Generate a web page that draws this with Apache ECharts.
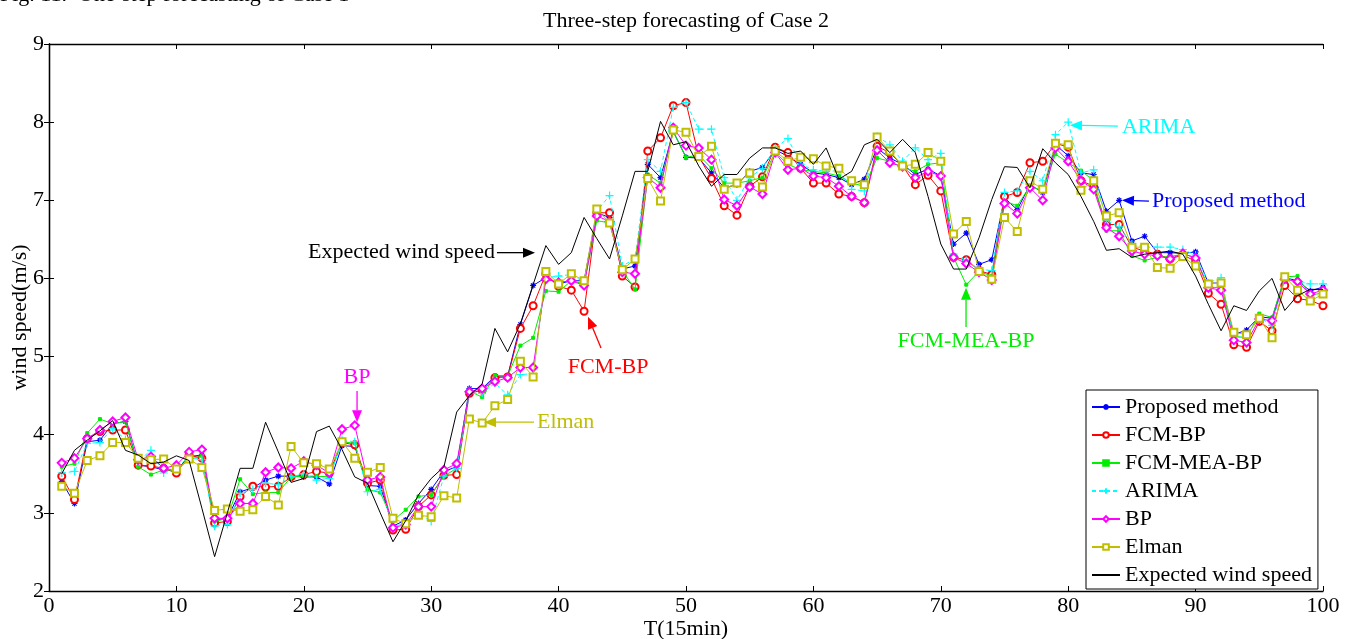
<!DOCTYPE html>
<html><head><meta charset="utf-8">
<script src="https://cdn.jsdelivr.net/npm/echarts@6/dist/echarts.min.js"></script>
<style>html,body{margin:0;padding:0;background:#fff;} #c{width:1351px;height:639px;}</style>
</head><body><div id="c"></div>
<script>
// time steps 1..100 (15-min intervals)
const T = Array.from({length: 100}, (_, i) => i + 1);

const proposed = [3.40,3.12,3.91,3.93,4.14,4.17,3.61,3.59,3.55,3.55,3.72,3.74,2.91,2.93,3.27,3.32,3.42,3.47,3.47,3.46,
3.46,3.37,3.86,3.85,3.35,3.34,2.83,2.91,3.12,3.30,3.53,3.59,4.59,4.59,4.75,4.75,5.41,5.91,6.01,5.93,
5.97,5.97,6.84,6.78,6.12,6.16,7.46,7.29,7.88,7.55,7.54,7.35,7.16,7.20,7.37,7.42,7.65,7.56,7.46,7.35,
7.33,7.29,7.20,7.27,7.67,7.54,7.46,7.33,7.40,7.31,6.44,6.58,6.18,6.24,7.03,6.88,7.20,7.10,7.71,7.57,
7.35,7.33,6.86,7.00,6.48,6.54,6.33,6.33,6.32,6.34,5.94,5.94,5.28,5.34,5.51,5.49,6.01,5.97,5.84,5.89];

const fcmBP = [3.47,3.17,3.95,4.04,4.06,4.06,3.61,3.60,3.57,3.51,3.74,3.70,2.87,2.89,3.21,3.34,3.33,3.34,3.46,3.49,
3.53,3.51,3.90,3.87,3.38,3.42,2.78,2.79,3.08,3.23,3.48,3.49,4.53,4.57,4.73,4.74,5.36,5.65,6.06,5.90,
5.85,5.58,6.84,6.84,6.03,5.89,7.63,7.80,8.21,8.25,7.56,7.28,6.93,6.81,7.18,7.30,7.68,7.61,7.41,7.22,
7.22,7.08,7.05,6.97,7.69,7.61,7.44,7.20,7.32,7.12,6.27,6.24,6.10,6.05,7.05,7.10,7.48,7.50,7.73,7.68,
7.25,7.18,6.69,6.69,6.40,6.35,6.31,6.25,6.30,6.22,5.81,5.67,5.15,5.12,5.45,5.33,5.91,5.74,5.72,5.65];

const fcmMeaBP = [3.59,3.63,4.02,4.20,4.14,4.17,3.59,3.49,3.55,3.55,3.68,3.73,2.89,2.93,3.43,3.24,3.26,3.26,3.46,3.47,
3.47,3.46,3.91,3.89,3.30,3.26,2.90,3.04,3.21,3.23,3.47,3.57,4.56,4.48,4.76,4.75,5.14,5.24,5.84,5.83,
5.97,5.93,6.74,6.71,6.10,5.86,7.33,7.22,7.88,7.55,7.58,7.41,7.22,7.22,7.25,7.29,7.61,7.46,7.39,7.37,
7.35,7.31,7.22,7.18,7.54,7.50,7.42,7.37,7.46,7.48,6.27,5.92,6.09,6.03,6.99,6.93,7.18,7.12,7.59,7.48,
7.38,7.25,6.61,6.61,6.29,6.23,6.27,6.28,6.31,6.27,5.89,5.88,5.26,5.24,5.55,5.50,6.02,6.03,5.78,5.82];

const arima = [3.51,3.53,3.89,3.90,4.08,3.94,3.66,3.80,3.51,3.58,3.72,3.68,2.83,2.85,3.25,3.30,3.38,3.36,3.46,3.50,
3.42,3.44,3.93,3.91,3.27,3.30,2.83,2.86,2.99,2.89,3.47,3.57,4.53,4.53,4.66,4.51,4.77,4.78,6.01,6.03,
6.05,5.95,6.86,7.06,6.16,6.25,7.52,7.37,8.19,8.25,7.91,7.91,7.29,7.00,7.29,7.41,7.67,7.79,7.46,7.39,
7.37,7.38,7.14,7.12,7.82,7.71,7.50,7.67,7.52,7.60,6.31,6.23,6.12,6.10,7.10,7.12,7.37,7.25,7.84,8.00,
7.35,7.39,6.74,6.66,6.44,6.40,6.40,6.40,6.37,6.30,5.94,6.01,5.24,5.26,5.50,5.40,6.01,5.97,5.93,5.93];

const bp = [3.64,3.70,3.95,4.06,4.17,4.22,3.68,3.72,3.57,3.61,3.78,3.81,2.93,2.93,3.12,3.12,3.52,3.58,3.57,3.66,
3.61,3.51,4.07,4.12,3.42,3.46,2.81,2.85,3.08,3.08,3.55,3.63,4.55,4.59,4.68,4.73,4.86,4.86,5.99,5.95,
5.97,5.91,6.80,6.73,6.08,6.06,7.29,7.16,7.93,7.70,7.67,7.52,7.01,6.93,7.17,7.08,7.61,7.39,7.41,7.31,
7.29,7.18,7.05,6.97,7.64,7.48,7.43,7.29,7.37,7.31,6.27,6.19,6.08,5.98,6.96,6.83,7.16,7.00,7.67,7.50,
7.25,7.14,6.65,6.54,6.35,6.31,6.29,6.25,6.32,6.26,5.88,5.85,5.21,5.18,5.48,5.46,5.99,5.96,5.80,5.85];

const elman = [3.34,3.25,3.67,3.73,3.90,3.90,3.70,3.68,3.69,3.56,3.69,3.58,3.03,3.05,3.02,3.04,3.21,3.10,3.85,3.64,
3.63,3.56,3.91,3.70,3.52,3.58,2.93,2.86,2.97,2.95,3.22,3.19,4.20,4.15,4.37,4.45,4.94,4.74,6.09,5.93,
6.06,5.97,6.89,6.71,6.11,6.25,7.28,6.99,7.90,7.87,7.56,7.69,7.14,7.22,7.35,7.17,7.63,7.50,7.55,7.53,
7.44,7.41,7.25,7.20,7.81,7.63,7.44,7.46,7.61,7.50,6.57,6.73,6.09,5.99,6.78,6.60,7.25,7.14,7.73,7.71,
7.13,7.25,6.80,6.84,6.40,6.40,6.14,6.13,6.28,6.16,5.93,5.94,5.31,5.28,5.49,5.24,6.02,5.85,5.71,5.80];

const expected = [3.50,3.80,3.93,4.05,4.18,3.80,3.74,3.63,3.65,3.73,3.67,3.06,2.44,3.00,3.57,3.57,4.16,3.78,3.39,3.44,
4.04,4.11,3.81,3.46,3.38,3.00,2.63,2.90,3.23,3.44,3.59,4.29,4.50,4.65,5.36,5.06,5.42,5.92,6.42,6.18,
6.33,6.78,6.51,6.25,6.80,7.37,7.37,8.01,7.71,7.75,7.44,7.18,7.33,7.33,7.54,7.67,7.67,7.60,7.63,7.46,
7.67,7.27,7.37,7.71,7.78,7.61,7.78,7.61,7.05,6.44,6.12,6.12,6.52,7.01,7.43,7.42,7.16,7.66,7.48,7.33,
7.05,6.73,6.36,6.38,6.27,6.31,6.33,6.35,6.31,6.03,5.67,5.33,5.65,5.59,5.84,6.00,5.59,5.78,5.86,5.86];

const seriesNames = ['Proposed method','FCM-BP','FCM-MEA-BP','ARIMA','BP','Elman','Expected wind speed'];
const seriesValues = [proposed, fcmBP, fcmMeaBP, arima, bp, elman, expected];
const colors = ['#0000ff','#ff0000','#00ee00','#00ffff','#ff00ff','#bfbf00','#000000'];

const FONT = 'Liberation Serif';
const FS = 22;
const asterisk = 'path://M5,0L5,10M0,5L10,5M1.5,1.5L8.5,8.5M8.5,1.5L1.5,8.5';
const plus = 'path://M5,0L5,10M0,5L10,5';
const symbolCfg = [
  {symbol: asterisk, size: 6, stroke: true},
  {symbol: 'emptyCircle', size: 7},
  {symbol: 'rect', size: 3},
  {symbol: plus, size: 8, stroke: true},
  {symbol: 'emptyDiamond', size: 8},
  {symbol: 'emptyRect', size: 7},
  {symbol: 'circle', size: 4, hidden: true}
];

const series = seriesNames.map((name, k) => {
  const c = colors[k], s = symbolCfg[k];
  let itemStyle;
  if (s.hidden) itemStyle = {color: 'rgba(0,0,0,0)', borderWidth: 0};
  else if (s.stroke) itemStyle = {color: c, borderColor: c, borderWidth: 1.2};
  else itemStyle = {color: c, borderColor: c, borderWidth: 1};
  return {
    name, type: 'line', data: T.map((t, i) => [t, seriesValues[k][i]]),
    symbol: s.symbol, symbolSize: s.size, showSymbol: !s.hidden,
    lineStyle: {color: c, width: 1, type: k === 3 ? [4, 3] : 'solid'},
    itemStyle,
    emphasis: {disabled: true}, animation: false, z: 2 + k
  };
});

const axisCommon = {
  axisLine: {show: true, lineStyle: {color: '#000', width: 1.3}},
  axisTick: {show: true, inside: true, length: 5, lineStyle: {color: '#000', width: 1}},
  splitLine: {show: false}
};

const chart = echarts.init(document.getElementById('c'), null, {renderer: 'canvas'});
chart.setOption({
  animation: false,
  backgroundColor: '#fff',
  grid: {left: 49, right: 28, top: 44, bottom: 48, show: false, containLabel: false, outerBoundsMode: 'none'},
  xAxis: [
    Object.assign({type: 'value', min: 0, max: 100, interval: 10, position: 'bottom',
      name: 'T(15min)', nameLocation: 'middle', nameGap: 27, nameMoveOverlap: false,
      nameTextStyle: {fontFamily: FONT, fontSize: FS, color: '#000'},
      axisLabel: {fontFamily: FONT, fontSize: FS, color: '#000', margin: 4}}, axisCommon),
    Object.assign({type: 'value', min: 0, max: 100, interval: 10, position: 'top',
      axisLabel: {show: false}}, axisCommon)
  ],
  yAxis: [
    Object.assign({type: 'value', min: 2, max: 9, interval: 1, position: 'left',
      name: 'wind speed(m/s)', nameLocation: 'middle', nameGap: 18, nameMoveOverlap: false,
      nameTextStyle: {fontFamily: FONT, fontSize: FS, color: '#000'},
      axisLabel: {fontFamily: FONT, fontSize: FS, color: '#000', margin: 5}}, axisCommon),
    Object.assign({type: 'value', min: 2, max: 9, interval: 1, position: 'right',
      axisLabel: {show: false}}, axisCommon)
  ],
  legend: {
    orient: 'vertical', left: 1086, top: 390,
    data: seriesNames,
    itemWidth: 28, itemHeight: 7, itemGap: 6,
    padding: [6, 6, 3, 5],
    borderColor: '#000', borderWidth: 1, backgroundColor: '#fff',
    textStyle: {fontFamily: FONT, fontSize: FS, color: '#000', lineHeight: 22},
    selectedMode: false
  },
  series
});

// annotations (data-space anchors)
const notes = [
  {text: 'BP', color: '#ff00ff', at: [24.18, 4.74], align: 'center', from: [24.18, 4.56], to: [24.18, 4.16]},
  {text: 'Elman', color: '#bfbf00', at: [38.3, 4.16], align: 'left', from: [38.07, 4.16], to: [34.15, 4.16]},
  {text: 'FCM-BP', color: '#ff0000', at: [43.88, 4.87], align: 'center', from: [43.33, 5.11], to: [42.31, 5.51]},
  {text: 'Expected wind speed', color: '#000000', at: [35.0, 6.33], align: 'right', from: [35.16, 6.33], to: [38.15, 6.33]},
  {text: 'FCM-MEA-BP', color: '#00ee00', at: [71.98, 5.20], align: 'center', from: [71.98, 5.38], to: [71.98, 5.88]},
  {text: 'ARIMA', color: '#00ffff', at: [84.22, 7.94], align: 'left', from: [83.9, 7.95], to: [80.14, 7.96]},
  {text: 'Proposed method', color: '#0000ff', at: [86.58, 6.99], align: 'left', from: [86.34, 6.99], to: [84.22, 7.0]}
];

const g = [];
g.push({type: 'text', x: 686, y: 21, style: {text: 'Three-step forecasting of Case 2', fontFamily: FONT, fontSize: FS, fill: '#000', align: 'center', verticalAlign: 'middle'}});
g.push({type: 'text', x: 0, y: 6, style: {text: 'Fig. 11.  One-step forecasting of Case 1', fontFamily: FONT, fontSize: FS, fill: '#000', align: 'left', verticalAlign: 'bottom'}});
notes.forEach(n => {
  const p = chart.convertToPixel({gridIndex: 0}, n.at);
  g.push({type: 'text', x: p[0], y: p[1], z: 50, style: {text: n.text, fill: n.color, fontFamily: FONT, fontSize: FS, align: n.align, verticalAlign: 'middle'}});
  const a = chart.convertToPixel({gridIndex: 0}, n.from), b = chart.convertToPixel({gridIndex: 0}, n.to);
  const dx = b[0] - a[0], dy = b[1] - a[1], L = Math.hypot(dx, dy), ux = dx / L, uy = dy / L;
  const hl = 12, hw = 5;
  const base = [b[0] - ux * hl, b[1] - uy * hl];
  g.push({type: 'line', z: 50, shape: {x1: a[0], y1: a[1], x2: base[0], y2: base[1]}, style: {stroke: n.color, lineWidth: 1.3}});
  g.push({type: 'polygon', z: 50, shape: {points: [b, [base[0] - uy * hw, base[1] + ux * hw], [base[0] + uy * hw, base[1] - ux * hw]]}, style: {fill: n.color}});
});
chart.setOption({graphic: g});
</script>
</body></html>
